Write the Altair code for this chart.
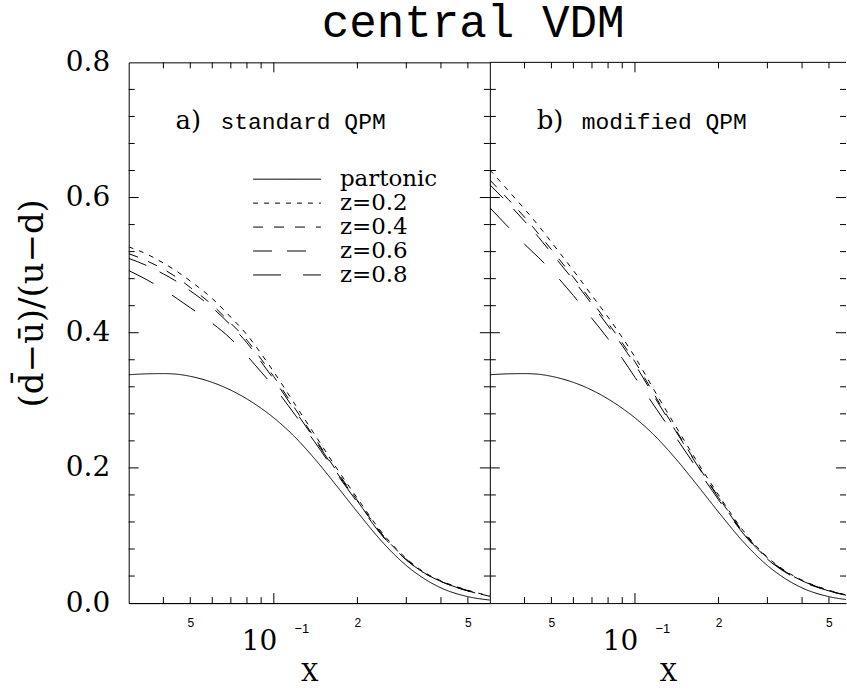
import altair as alt
import pandas as pd

# ---------------- data ----------------
x_vals = [0.03, 0.035, 0.04, 0.045, 0.05, 0.06, 0.07, 0.08, 0.09, 0.1,
          0.12, 0.14, 0.17, 0.2, 0.25, 0.3, 0.35, 0.4, 0.5, 0.6]

partonic = [0.3378, 0.3392, 0.3395, 0.3385, 0.3355, 0.3265, 0.315, 0.302, 0.2882, 0.274,
            0.2443, 0.2139, 0.1713, 0.1347, 0.0872, 0.0556, 0.0355, 0.0225, 0.0095, 0.0045]

a_z02 = [0.527, 0.516, 0.503, 0.490, 0.4765, 0.4505, 0.423, 0.397, 0.369, 0.342,
         0.292, 0.250, 0.197, 0.155, 0.100, 0.066, 0.045, 0.033, 0.019, 0.0105]
a_z04 = [0.517, 0.506, 0.494, 0.481, 0.467, 0.441, 0.414, 0.389, 0.361, 0.335,
         0.286, 0.245, 0.193, 0.152, 0.098, 0.065, 0.044, 0.032, 0.0185, 0.010]
a_z06 = [0.510, 0.499, 0.487, 0.475, 0.462, 0.437, 0.411, 0.385, 0.357, 0.331,
         0.283, 0.243, 0.191, 0.151, 0.097, 0.064, 0.044, 0.032, 0.018, 0.010]
a_z08 = [0.492, 0.478, 0.464, 0.450, 0.437, 0.414, 0.391, 0.366, 0.342, 0.320,
         0.277, 0.239, 0.189, 0.149, 0.096, 0.064, 0.044, 0.032, 0.018, 0.0095]

b_z02 = [0.641, 0.610, 0.583, 0.558, 0.534, 0.492, 0.455, 0.423, 0.393, 0.364,
         0.308, 0.262, 0.205, 0.160, 0.103, 0.068, 0.047, 0.034, 0.019, 0.0105]
b_z04 = [0.626, 0.597, 0.571, 0.546, 0.523, 0.482, 0.446, 0.414, 0.385, 0.357,
         0.302, 0.257, 0.201, 0.157, 0.101, 0.067, 0.046, 0.033, 0.0185, 0.010]
b_z06 = [0.619, 0.591, 0.565, 0.541, 0.518, 0.478, 0.442, 0.410, 0.381, 0.353,
         0.299, 0.255, 0.200, 0.156, 0.100, 0.066, 0.046, 0.033, 0.018, 0.010]
b_z08 = [0.585, 0.556, 0.531, 0.511, 0.492, 0.455, 0.421, 0.391, 0.362, 0.334,
         0.286, 0.246, 0.195, 0.153, 0.099, 0.065, 0.045, 0.032, 0.018, 0.0095]

series_names = ["partonic", "z=0.2", "z=0.4", "z=0.6", "z=0.8"]
dash_patterns = [[1, 0], [5, 6], [10, 11], [19, 15], [28, 22]]

y_label_values = [0.0, 0.2, 0.4, 0.6, 0.8]
y_major_ticks = [0.2, 0.4, 0.6]
y_minor_ticks = [0.04, 0.08, 0.12, 0.16, 0.24, 0.28, 0.32, 0.36,
                 0.44, 0.48, 0.52, 0.56, 0.64, 0.68, 0.72, 0.76]
x_label_values = [0.05, 0.2, 0.5]
x_major_ticks = [0.1]
x_minor_ticks = [0.04, 0.05, 0.06, 0.07, 0.08, 0.09, 0.2, 0.3, 0.4, 0.5]

title_text = "central VDM"
y_title = "(d\u0304\u2212\u016b)/(u\u2212d)"
x_title = "X"

# ---------------- styling ----------------
H = 542
SERIF = "DejaVu Serif"
MONO = "Liberation Mono"
SANS = "Liberation Sans"
MINOR = 6
MAJOR = 10


def long_df(series_list):
    rows = []
    for name, vals in zip(series_names, series_list):
        for xv, yv in zip(x_vals, vals):
            rows.append({"x": xv, "v": yv, "series": name})
    return pd.DataFrame(rows)


legend = alt.Legend(
    orient="none", legendX=147.2, legendY=105.6, title=None,
    labelFont=SERIF, labelFontSize=23, labelColor="black", labelOffset=41.5,
    symbolType="M-17,0L17,0", symbolSize=16, symbolStrokeWidth=1,
    symbolStrokeColor="black", rowPadding=-0.7, padding=0,
)


def panel(df, width, xmax, letter, desc, left):
    xscale = alt.Scale(type="log", domain=[0.03, xmax], nice=False)
    yscale = alt.Scale(domain=[0, 0.8], nice=False, zero=False)
    x_axis = alt.Axis(
        values=x_label_values,
        labelExpr="datum.value < 0.1 ? '5' : (datum.value < 0.3 ? '2' : '5')",
        tickSize=0, grid=False, domain=True, domainColor="black", domainWidth=1,
        labelFont=SANS, labelFontSize=12, labelColor="black", labelPadding=14.5,
        labelAngle=0, labelFlush=False,
        title=x_title, titleFont=SERIF, titleFontSize=24, titleFontWeight="normal",
        titleColor="black", titleY=78, titleBaseline="alphabetic",
    )
    if left:
        y_axis = alt.Axis(
            values=y_label_values, format=".1f", tickSize=0, grid=False, domain=False,
            labelFont=SERIF, labelFontSize=28, labelColor="black", labelPadding=19,
            title=y_title, titleFont=SERIF, titleFontSize=34, titleFontWeight="normal",
            titleColor="black", titleX=-96, titleY=241, titleAlign="center",
            titleBaseline="middle",
        )
    else:
        y_axis = None

    X = alt.X("x:Q", scale=xscale, axis=x_axis)
    Y = alt.Y("v:Q", scale=yscale, axis=y_axis)

    lines = alt.Chart(df).mark_line(
        clip=True, strokeWidth=1, color="black", interpolate="monotone"
    ).encode(
        x=X, y=Y,
        strokeDash=alt.StrokeDash(
            "series:N",
            scale=alt.Scale(domain=series_names, range=dash_patterns),
            legend=legend,
        ),
    )

    layers = [lines]
    ymin = pd.DataFrame({"v": y_minor_ticks})
    ymaj = pd.DataFrame({"v": y_major_ticks})
    xmin = pd.DataFrame({"x": x_minor_ticks})
    xmaj = pd.DataFrame({"x": x_major_ticks})
    for d, ln in ((ymin, MINOR), (ymaj, MAJOR)):
        layers.append(alt.Chart(d).mark_rule(color="black", strokeWidth=1).encode(
            y=Y, x=alt.value(0), x2=alt.value(ln)))
        layers.append(alt.Chart(d).mark_rule(color="black", strokeWidth=1).encode(
            y=Y, x=alt.value(width), x2=alt.value(width - ln)))
    for d, ln in ((xmin, MINOR), (xmaj, MAJOR)):
        layers.append(alt.Chart(d).mark_rule(color="black", strokeWidth=1).encode(
            x=X, y=alt.value(H), y2=alt.value(H - ln)))
        layers.append(alt.Chart(d).mark_rule(color="black", strokeWidth=1).encode(
            x=X, y=alt.value(0), y2=alt.value(ln)))

    # panel labels
    layers.append(alt.Chart(pd.DataFrame({"t": [letter]})).mark_text(
        font=SERIF, fontSize=26, align="left", baseline="alphabetic", color="black"
    ).encode(text="t:N", x=alt.value(47), y=alt.value(67)))
    layers.append(alt.Chart(pd.DataFrame({"t": [desc]})).mark_text(
        font=MONO, fontSize=23, align="left", baseline="alphabetic", color="black"
    ).encode(text="t:N", x=alt.value(92), y=alt.value(67)))

    # 10^-1 label at x = 0.1
    layers.append(alt.Chart(pd.DataFrame({"x": [0.1], "t": ["10"]})).mark_text(
        font=SERIF, fontSize=28, align="center", baseline="alphabetic", color="black",
        dx=-14.4
    ).encode(x=X, y=alt.value(H + 46.6), text="t:N"))
    layers.append(alt.Chart(pd.DataFrame({"x": [0.1], "t": ["\u22121"]})).mark_text(
        font=SANS, fontSize=13, align="center", baseline="alphabetic", color="black",
        dx=28
    ).encode(x=X, y=alt.value(H + 30), text="t:N"))

    if left:
        layers.append(alt.Chart(pd.DataFrame({"t": [title_text]})).mark_text(
            font=MONO, fontSize=46, align="center", baseline="alphabetic", color="black"
        ).encode(text="t:N", x=alt.value(345.2), y=alt.value(-25.7)))
        view = alt.ViewBackground(stroke="black", strokeWidth=1)
    else:
        # top border of the (cut-off) right panel
        layers.append(alt.Chart(pd.DataFrame({"v": [0.8]})).mark_rule(
            color="black", strokeWidth=1
        ).encode(y=Y, x=alt.value(0), x2=alt.value(width)))
        view = alt.ViewBackground(strokeOpacity=0)

    return alt.layer(*layers).properties(width=width, height=H, view=view)


df_a = long_df([partonic, a_z02, a_z04, a_z06, a_z08])
df_b = long_df([partonic, b_z02, b_z04, b_z06, b_z08])

pa = panel(df_a, 362, 0.6, "a)", "standard QPM", True)
pb = panel(df_b, 357, 0.576, "b)", "modified QPM", False)

chart = alt.hconcat(pa, pb, spacing=0, bounds="flush").properties(
    padding={"left": 15, "top": -2.3, "right": 0, "bottom": 0},
    background="white",
).configure_view(stroke="black", strokeWidth=1)

chart.save("out.html", embed_options={"renderer": "svg", "actions": False})
